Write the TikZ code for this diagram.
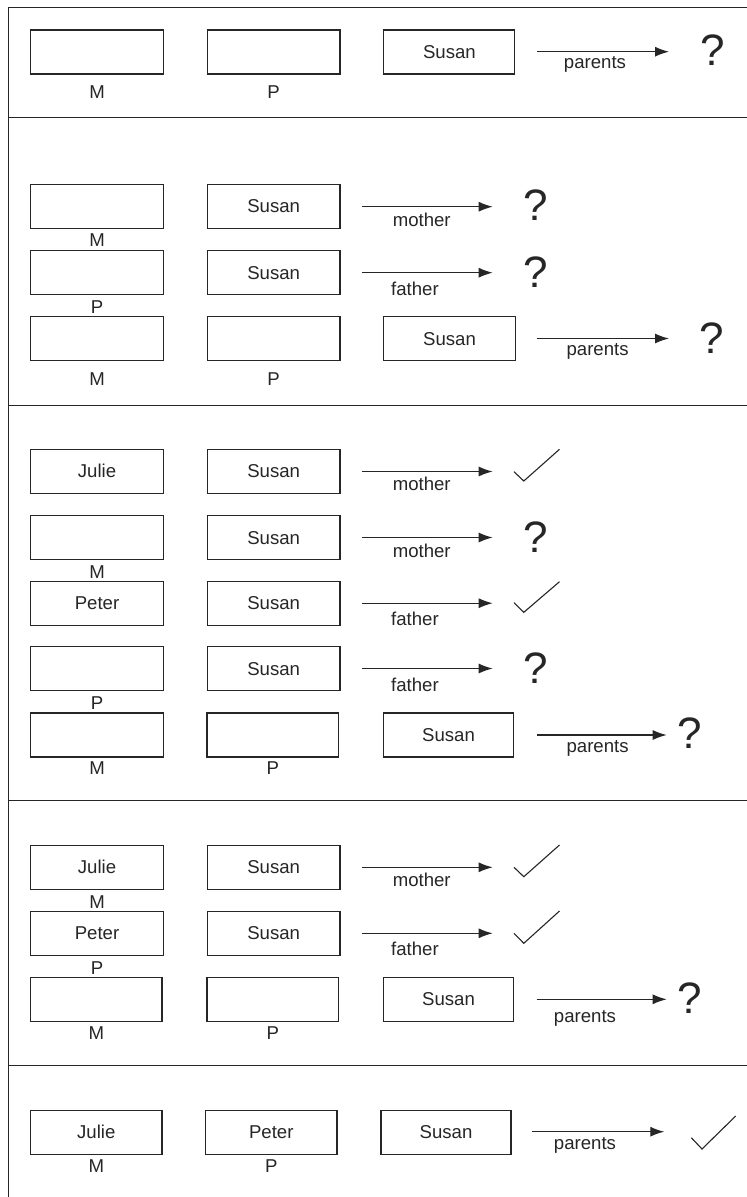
\documentclass[tikz,border=0pt]{standalone}
\usepackage{fontspec}
\setmainfont{Liberation Sans}
\usetikzlibrary{arrows.meta,calc}
\definecolor{ink}{HTML}{262626}
\begin{document}
\begin{tikzpicture}[x=1pt,y=-1pt,
  frame/.style={line width=1.4pt, draw=ink},
  box/.style={draw=ink, line width=1.15pt, minimum width=132.6pt, minimum height=44pt, inner sep=0pt, font=\fontsize{18.6}{22}\selectfont, text=ink},
  tag/.style={font=\fontsize{18.6}{22}\selectfont, text=ink, inner sep=0pt},
  rel/.style={font=\fontsize{18.6}{22}\selectfont, text=ink, inner sep=0pt, anchor=base},
  qm/.style={font=\fontsize{44}{50}\selectfont, text=ink, inner sep=0pt},
  arr/.style={draw=ink, line width=1.2pt, -{Latex[length=14pt,width=10pt]}},
  chk/.style={draw=ink, line width=1.1pt, line join=miter},
]
\useasboundingbox (0,0) rectangle (747,1197);
\fill[white] (0,0) rectangle (747,1197);

% frame and dividers
\draw[frame] (747,7.7) -- (8.3,7.7) -- (8.3,1197);
\draw[frame] (8.3,117.7) -- (747,117.7);
\draw[frame] (8.3,405.2) -- (747,405.2);
\draw[frame] (8.3,800.7) -- (747,800.7);
\draw[frame] (8.3,1065.7) -- (747,1065.7);

% ---------- Section 1
\node[box] (m1) at (97,52) {};
\node[tag] (m1t) at (97,92) {M};
\node[box] (p1) at (273.7,52) {};
\node[tag] (p1t) at (273.7,92) {P};
\node[box,minimum width=131pt] (s1) at (449.4,52) {Susan};
\coordinate (a1) at (537,51.7); \coordinate (b1) at (669,51.7);
\draw[arr] (a1) -- (b1);
\node[rel] (l1) at (595,68.3) {parents};
\node[qm] (q1) at (712.6,50) {?};

% ---------- Section 2
\node[box] (m2a) at (97,206.5) {};
\node[box] (s2a) at (273.7,206.5) {Susan};
\coordinate (a2a) at (361.7,206.7); \coordinate (b2a) at (492.7,206.7);
\draw[arr] (a2a) -- (b2a);
\node[rel] (l2a) at (421.7,226) {mother};
\node[qm] (q2a) at (536,205.3) {?};
\node[tag] (m2at) at (97,240.3) {M};

\node[box] (m2b) at (97,272.9) {};
\node[box] (s2b) at (273.7,272.9) {Susan};
\coordinate (a2b) at (361.7,272.7); \coordinate (b2b) at (492.7,272.7);
\draw[arr] (a2b) -- (b2b);
\node[rel] (l2b) at (415,295) {father};
\node[qm] (q2b) at (536,271.7) {?};
\node[tag] (p2bt) at (97,306.7) {P};

\node[box] (m2c) at (97,338.8) {};
\node[box] (p2c) at (273.7,338.8) {};
\node[box,minimum width=131.5pt] (s2c) at (449.5,338.8) {Susan};
\coordinate (a2c) at (536.7,338.5); \coordinate (b2c) at (669,338.5);
\draw[arr] (a2c) -- (b2c);
\node[rel] (l2c) at (597.6,355.3) {parents};
\node[qm] (q2c) at (712,338.3) {?};
\node[tag] (m2ct) at (97,379.3) {M};
\node[tag] (p2ct) at (273.7,379.3) {P};

% ---------- Section 3
\node[box] (m3a) at (97,471.3) {Julie};
\node[box] (s3a) at (273.7,471.3) {Susan};
\coordinate (a3a) at (361.7,471.5); \coordinate (b3a) at (492.7,471.5);
\draw[arr] (a3a) -- (b3a);
\node[rel] (l3a) at (421.7,490.5) {mother};
\draw[chk] (514,471.7) -- (523.8,481) -- (559.5,449.3);

\node[box] (m3b) at (97,537.7) {};
\node[box] (s3b) at (273.7,537.7) {Susan};
\coordinate (a3b) at (361.7,537.5); \coordinate (b3b) at (492.7,537.5);
\draw[arr] (a3b) -- (b3b);
\node[rel] (l3b) at (421.7,557) {mother};
\node[qm] (q3b) at (535.7,536.7) {?};
\node[tag] (m3bt) at (97,571.7) {M};

\node[box] (m3c) at (97,603.2) {Peter};
\node[box] (s3c) at (273.7,603.2) {Susan};
\coordinate (a3c) at (361.7,603.2); \coordinate (b3c) at (492.7,603.2);
\draw[arr] (a3c) -- (b3c);
\node[rel] (l3c) at (415,625.5) {father};
\draw[chk] (514,602.7) -- (523.8,612.3) -- (559.5,581.7);

\node[box] (m3d) at (97,668.7) {};
\node[box] (s3d) at (273.7,668.7) {Susan};
\coordinate (a3d) at (361.7,668.5); \coordinate (b3d) at (492.7,668.5);
\draw[arr] (a3d) -- (b3d);
\node[rel] (l3d) at (415,691) {father};
\node[qm] (q3d) at (535.7,668.3) {?};
\node[tag] (p3dt) at (97,702.7) {P};

\node[box] (m3e) at (97,735) {};
\node[box,minimum width=131.6pt] (p3e) at (272.8,735) {};
\node[box,minimum width=129.5pt] (s3e) at (448.5,735) {Susan};
\coordinate (a3e) at (536.7,735); \coordinate (b3e) at (666.7,735);
\draw[arr] (a3e) -- (b3e);
\node[rel] (l3e) at (597.6,752) {parents};
\node[qm] (q3e) at (689.5,733.3) {?};
\node[tag] (m3et) at (97,768.5) {M};
\node[tag] (p3et) at (272.8,768.5) {P};

% ---------- Section 4
\node[box] (m4a) at (97,867.2) {Julie};
\node[box] (s4a) at (273.7,867.2) {Susan};
\coordinate (a4a) at (361.7,867.3); \coordinate (b4a) at (492.7,867.3);
\draw[arr] (a4a) -- (b4a);
\node[rel] (l4a) at (421.7,886.6) {mother};
\draw[chk] (514,867.3) -- (523.8,876.7) -- (559.5,845);
\node[tag] (m4at) at (97,901.7) {M};

\node[box] (m4b) at (97,933.5) {Peter};
\node[box] (s4b) at (273.7,933.5) {Susan};
\coordinate (a4b) at (361.7,933.3); \coordinate (b4b) at (492.7,933.3);
\draw[arr] (a4b) -- (b4b);
\node[rel] (l4b) at (415,955.6) {father};
\draw[chk] (514,933.3) -- (523.8,943.3) -- (559.5,911);
\node[tag] (p4bt) at (97,967.7) {P};

\node[box,minimum width=131.5pt] (m4c) at (96.3,999.5) {};
\node[box,minimum width=131.6pt] (p4c) at (272.8,999.5) {};
\node[box,minimum width=129.5pt] (s4c) at (448.5,999.5) {Susan};
\coordinate (a4c) at (536.7,999.3); \coordinate (b4c) at (666.7,999.3);
\draw[arr] (a4c) -- (b4c);
\node[rel] (l4c) at (585,1022.5) {parents};
\node[qm] (q4c) at (689.5,998.3) {?};
\node[tag] (m4ct) at (96.3,1032.7) {M};
\node[tag] (p4ct) at (272.8,1032.7) {P};

% ---------- Section 5
\node[box,minimum width=131.5pt] (m5) at (96.3,1132.2) {Julie};
\node[box,minimum width=131.3pt] (p5) at (271.3,1132.2) {Peter};
\node[box,minimum width=130pt] (s5) at (446,1132.2) {Susan};
\coordinate (a5) at (532.4,1131.7); \coordinate (b5) at (664.3,1131.7);
\draw[arr] (a5) -- (b5);
\node[rel] (l5) at (585,1149.3) {parents};
\draw[chk] (691.3,1137.7) -- (702,1149) -- (735.7,1116);
\node[tag] (m5t) at (96.3,1165.7) {M};
\node[tag] (p5t) at (271.3,1165.7) {P};
\end{tikzpicture}
\end{document}
